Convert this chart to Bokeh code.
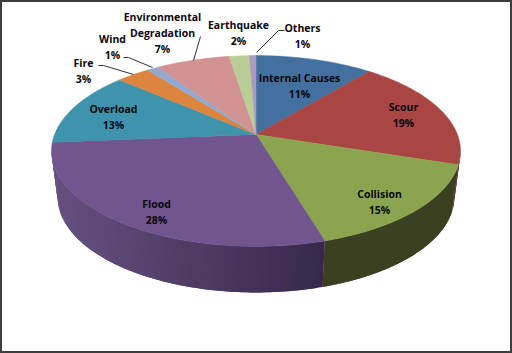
import numpy as np
from bokeh.plotting import figure
from bokeh.models import ColumnDataSource
from bokeh.embed import file_html
from bokeh.resources import INLINE
from bokeh.core.properties import value

categories = ["Internal Causes", "Scour", "Collision", "Flood", "Overload", "Fire", "Wind",
              "Environmental\nDegradation", "Earthquake", "Others"]
values = [11.0, 19.0, 15.4, 28.3, 12.7, 3.1, 1.1, 6.9, 1.9, 0.6]
colors = ["#44709f", "#a94543", "#8aa44f", "#70558f", "#3f93ac", "#dc853e", "#93a9d0", "#d09392", "#bacd97", "#a99abf"]
wall_a = ["#2e4a6a", "#702d2c", "#3d4420", "#65507f", "#2a6272", "#93582a", "#62708a", "#8a6261", "#7b8864", "#70667f"]
wall_b = ["#2e4a6a", "#702d2c", "#3b4120", "#36284a", "#2a6272", "#93582a", "#62708a", "#8a6261", "#7b8864", "#70667f"]
label_x = [299, 403, 379, 156, 113, 83, 112, 162, 238, 302]
label_y = [77, 106, 193, 203, 108, 62, 38, 16, 24, 27]
leader_x = [[98, 103, 133], [123, 128, 152], [200, 193], [284, 278, 256]]
leader_y = [[65, 65, 74], [57, 57, 67], [36, 60], [30, 30, 52]]

CX, AY, A, B, K, DEPTH, SHRINK = 255.5, 134.0, 201.4, 92.6, 0.1728, 46.0, 0.97


def rim(t, depth=0.0, sx=1.0):
    u, v = np.sin(t), np.cos(t)
    w = 1 + K * v
    return CX + sx * A * u / w, AY + depth - B * v / w


def lerp(c1, c2, f):
    a = [int(c1[i:i + 2], 16) for i in (1, 3, 5)]
    b = [int(c2[i:i + 2], 16) for i in (1, 3, 5)]
    return "#%02x%02x%02x" % tuple(int(round(x + (y - x) * f)) for x, y in zip(a, b))


p = figure(width=512, height=353, x_range=(0, 512), y_range=(353, 0),
           toolbar_location=None, output_backend="svg", min_border=0,
           background_fill_color="white", border_fill_color="white")
p.axis.visible = False
p.grid.visible = False
p.outline_line_color = "#3c3c3c"
p.outline_line_width = 3

edges = np.cumsum([0.0] + values) / sum(values) * 2 * np.pi
vis0 = np.pi / 2 + np.arcsin(K)
vis1 = 3 * np.pi / 2 - np.arcsin(K)
step = np.radians(1.5)

xs, ys, fc = [], [], []
for i in range(len(values)):
    a0, a1 = max(edges[i], vis0), min(edges[i + 1], vis1)
    if a1 <= a0:
        continue
    n = max(1, int((a1 - a0) / step))
    st = np.linspace(a0, a1, n + 1)
    for j in range(n):
        # each strip runs on under the next one, so that no seam shows between them
        end = st[j + 2] if j + 2 <= n else st[j + 1]
        t = np.linspace(st[j], end, 4)
        tx, ty = rim(t)
        bx, by = rim(t[::-1], DEPTH, SHRINK)
        xs.append(np.r_[tx, bx])
        ys.append(np.r_[ty, by])
        mx = (tx.mean() - 52) / (325 - 52)
        fc.append(lerp(wall_a[i], wall_b[i], float(np.clip(mx, 0, 1))))
p.patches(xs, ys, fill_color=fc, line_color=None)

xs, ys = [], []
for i in range(len(values)):
    t = np.linspace(edges[i], edges[i + 1], max(3, int((edges[i + 1] - edges[i]) / np.radians(1))))
    rx, ry = rim(t)
    xs.append(np.r_[CX, rx])
    ys.append(np.r_[AY, ry])
p.patches(xs, ys, fill_color=colors, line_color=colors, line_width=0.5)

p.multi_line(leader_x, leader_y, line_color="#333333", line_width=1)

tx, ty, tt = [], [], []
for c, v, x, y in zip(categories, values, label_x, label_y):
    lines = c.split("\n") + [f"{max(1, round(v))}%"]
    for k, s in enumerate(lines):
        tx.append(x)
        ty.append(y + k * 16)
        tt.append(s)
src = ColumnDataSource(dict(x=tx, y=ty, t=tt))
p.text("x", "y", text="t", source=src, text_align="center", text_baseline="middle",
       text_font=value("Open Sans"), text_font_style="bold", text_font_size="10.5px",
       text_color="#08080c")

open("out.html", "w").write(file_html(p, INLINE))
